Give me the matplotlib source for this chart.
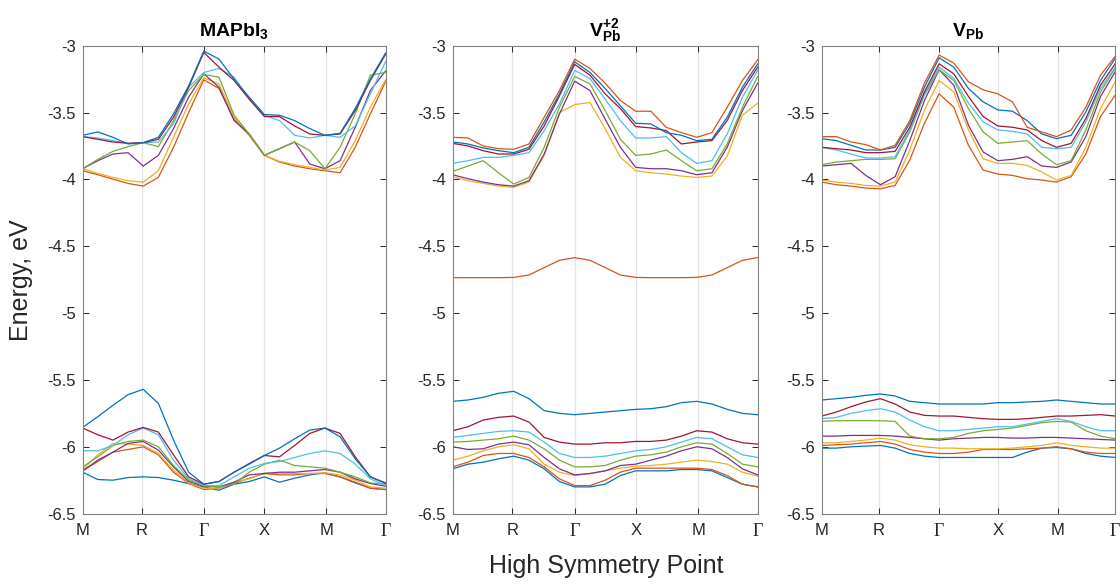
import matplotlib as mpl
mpl.use('Agg')
import matplotlib.pyplot as plt

plt.rcParams['font.family'] = ['Liberation Sans', 'DejaVu Sans']
plt.rcParams['axes.unicode_minus'] = False
plt.rcParams['mathtext.fontset'] = 'custom'
plt.rcParams['mathtext.rm'] = 'Liberation Sans'
plt.rcParams['mathtext.bf'] = 'Liberation Sans:bold'

# k path sampled every quarter segment: M - R - G - X - M - G
kpts = [0, 0.25, 0.5, 0.75, 1, 1.25, 1.5, 1.75, 2, 2.25, 2.5,
        2.75, 3, 3.25, 3.5, 3.75, 4, 4.25, 4.5, 4.75, 5]
hs_pos = [0, 0.975, 2, 3, 4.025, 5]
hs_labels = ['M', 'R', 'Γ', 'X', 'M', 'Γ']

# bands listed from lowest to highest energy (eV)
mapbi3_bands = [
    [-6.19, -6.245, -6.25, -6.23, -6.225, -6.23, -6.25, -6.275, -6.30, -6.325, -6.28, -6.26, -6.225, -6.265, -6.235, -6.21, -6.195, -6.225, -6.27, -6.31, -6.32],
    [-6.18, -6.11, -6.04, -6.02, -6.0, -6.06, -6.19, -6.275, -6.32, -6.31, -6.275, -6.235, -6.2, -6.21, -6.21, -6.2, -6.2, -6.225, -6.265, -6.31, -6.32],
    [-6.17, -6.06, -5.975, -5.98, -5.99, -6.05, -6.175, -6.27, -6.31, -6.31, -6.265, -6.24, -6.195, -6.2, -6.2, -6.2, -6.195, -6.21, -6.25, -6.3, -6.31],
    [-6.18, -6.1, -6.04, -5.975, -5.96, -6.025, -6.15, -6.26, -6.295, -6.3, -6.265, -6.21, -6.2, -6.19, -6.19, -6.18, -6.17, -6.19, -6.24, -6.275, -6.295],
    [-6.15, -6.075, -5.99, -5.96, -5.95, -6.0, -6.14, -6.25, -6.29, -6.3, -6.28, -6.19, -6.13, -6.1, -6.14, -6.15, -6.16, -6.19, -6.225, -6.27, -6.28],
    [-6.03, -6.03, -5.99, -5.91, -5.86, -5.91, -6.1, -6.24, -6.29, -6.29, -6.225, -6.16, -6.125, -6.11, -6.08, -6.05, -6.03, -6.05, -6.13, -6.24, -6.29],
    [-5.86, -5.91, -5.95, -5.89, -5.855, -5.89, -6.06, -6.225, -6.28, -6.26, -6.19, -6.125, -6.065, -6.075, -5.99, -5.9, -5.86, -5.9, -6.075, -6.225, -6.27],
    [-5.855, -5.775, -5.69, -5.61, -5.57, -5.675, -5.95, -6.19, -6.28, -6.26, -6.19, -6.13, -6.065, -6.01, -5.94, -5.875, -5.86, -5.925, -6.09, -6.225, -6.275],
    [-3.935, -3.965, -3.998, -4.03, -4.05, -3.985, -3.76, -3.5, -3.255, -3.32, -3.55, -3.67, -3.82, -3.87, -3.9, -3.92, -3.935, -3.95, -3.76, -3.51, -3.27],
    [-3.92, -3.955, -3.985, -4.01, -4.02, -3.935, -3.685, -3.435, -3.24, -3.285, -3.535, -3.67, -3.82, -3.865, -3.89, -3.91, -3.93, -3.91, -3.71, -3.46, -3.255],
    [-3.92, -3.86, -3.81, -3.80, -3.90, -3.82, -3.62, -3.385, -3.21, -3.31, -3.56, -3.66, -3.82, -3.77, -3.72, -3.885, -3.92, -3.86, -3.61, -3.335, -3.19],
    [-3.92, -3.85, -3.79, -3.755, -3.725, -3.755, -3.56, -3.335, -3.215, -3.235, -3.52, -3.66, -3.82, -3.77, -3.72, -3.785, -3.92, -3.76, -3.51, -3.22, -3.2],
    [-3.68, -3.69, -3.71, -3.73, -3.725, -3.72, -3.585, -3.31, -3.2, -3.17, -3.235, -3.4, -3.52, -3.56, -3.67, -3.69, -3.67, -3.685, -3.6, -3.36, -3.12],
    [-3.68, -3.70, -3.72, -3.73, -3.725, -3.70, -3.535, -3.31, -3.05, -3.16, -3.26, -3.4, -3.53, -3.53, -3.6, -3.66, -3.67, -3.66, -3.485, -3.26, -3.065],
    [-3.67, -3.645, -3.685, -3.735, -3.725, -3.685, -3.51, -3.30, -3.04, -3.1, -3.25, -3.385, -3.515, -3.52, -3.56, -3.62, -3.67, -3.655, -3.47, -3.25, -3.055],
]

vpb2_bands = [
    [-6.165, -6.13, -6.115, -6.09, -6.07, -6.1, -6.165, -6.26, -6.3, -6.3, -6.28, -6.215, -6.18, -6.18, -6.18, -6.17, -6.17, -6.18, -6.23, -6.28, -6.3],
    [-6.15, -6.115, -6.065, -6.05, -6.05, -6.08, -6.15, -6.24, -6.29, -6.29, -6.25, -6.19, -6.16, -6.16, -6.16, -6.16, -6.16, -6.17, -6.215, -6.28, -6.3],
    [-6.1, -6.07, -6.03, -6.0, -5.985, -6.015, -6.13, -6.19, -6.215, -6.2, -6.18, -6.16, -6.145, -6.14, -6.13, -6.115, -6.1, -6.11, -6.13, -6.19, -6.22],
    [-6.0, -6.02, -6.015, -5.98, -5.965, -5.985, -6.08, -6.165, -6.21, -6.2, -6.18, -6.14, -6.13, -6.1, -6.07, -6.03, -6.0, -6.015, -6.08, -6.165, -6.21],
    [-5.965, -5.96, -5.95, -5.94, -5.92, -5.95, -6.015, -6.1, -6.15, -6.15, -6.14, -6.1, -6.07, -6.06, -6.04, -6.0, -5.97, -5.98, -6.05, -6.13, -6.15],
    [-5.93, -5.915, -5.9, -5.885, -5.88, -5.89, -5.965, -6.05, -6.08, -6.08, -6.07, -6.05, -6.03, -6.02, -6.0, -5.965, -5.93, -5.94, -6.0, -6.06, -6.08],
    [-5.88, -5.85, -5.8, -5.78, -5.77, -5.815, -5.93, -5.965, -5.98, -5.98, -5.97, -5.97, -5.96, -5.96, -5.95, -5.92, -5.88, -5.89, -5.94, -5.97, -5.98],
    [-5.66, -5.65, -5.63, -5.6, -5.585, -5.64, -5.73, -5.75, -5.76, -5.75, -5.74, -5.73, -5.72, -5.715, -5.7, -5.67, -5.66, -5.68, -5.72, -5.75, -5.76],
    [-4.735, -4.735, -4.735, -4.735, -4.733, -4.715, -4.66, -4.605, -4.585, -4.605, -4.66, -4.715, -4.733, -4.735, -4.735, -4.735, -4.733, -4.715, -4.66, -4.605, -4.585],
    [-3.98, -4.01, -4.03, -4.05, -4.06, -4.02, -3.82, -3.5, -3.44, -3.425, -3.62, -3.835, -3.935, -3.95, -3.96, -3.975, -3.985, -3.975, -3.825, -3.52, -3.43],
    [-3.965, -3.995, -4.02, -4.04, -4.05, -4.01, -3.81, -3.51, -3.265, -3.335, -3.55, -3.76, -3.91, -3.92, -3.92, -3.935, -3.965, -3.95, -3.76, -3.485, -3.28],
    [-3.94, -3.9, -3.86, -3.95, -4.035, -3.985, -3.76, -3.46, -3.23, -3.285, -3.485, -3.7, -3.82, -3.81, -3.78, -3.86, -3.935, -3.92, -3.735, -3.46, -3.23],
    [-3.88, -3.86, -3.835, -3.835, -3.82, -3.8, -3.635, -3.435, -3.185, -3.245, -3.4, -3.56, -3.69, -3.69, -3.68, -3.8, -3.88, -3.86, -3.66, -3.385, -3.185],
    [-3.73, -3.75, -3.785, -3.81, -3.81, -3.775, -3.6, -3.375, -3.14, -3.22, -3.36, -3.47, -3.605, -3.615, -3.635, -3.735, -3.72, -3.71, -3.56, -3.335, -3.16],
    [-3.72, -3.735, -3.765, -3.785, -3.8, -3.76, -3.57, -3.36, -3.12, -3.2, -3.32, -3.45, -3.58, -3.585, -3.65, -3.67, -3.71, -3.7, -3.535, -3.31, -3.135],
    [-3.685, -3.69, -3.75, -3.77, -3.775, -3.735, -3.535, -3.335, -3.10, -3.17, -3.28, -3.41, -3.49, -3.49, -3.61, -3.65, -3.685, -3.65, -3.46, -3.26, -3.105],
]

vpb_bands = [
    [-6.01, -6.01, -6.0, -5.995, -5.99, -6.01, -6.05, -6.07, -6.08, -6.08, -6.08, -6.08, -6.08, -6.08, -6.04, -6.01, -6.005, -6.015, -6.05, -6.07, -6.08],
    [-5.99, -5.985, -5.98, -5.97, -5.96, -5.98, -6.02, -6.04, -6.05, -6.05, -6.04, -6.02, -6.02, -6.02, -6.015, -6.01, -6.0, -6.015, -6.04, -6.05, -6.05],
    [-5.97, -5.97, -5.96, -5.95, -5.935, -5.95, -5.985, -6.0, -6.01, -6.01, -6.015, -6.015, -6.015, -6.01, -6.0, -5.99, -5.97, -5.99, -6.0, -6.01, -6.01],
    [-5.92, -5.92, -5.915, -5.915, -5.915, -5.92, -5.93, -5.94, -5.95, -5.94, -5.935, -5.93, -5.93, -5.935, -5.935, -5.93, -5.93, -5.935, -5.94, -5.945, -5.95],
    [-5.81, -5.805, -5.805, -5.805, -5.805, -5.81, -5.92, -5.94, -5.94, -5.93, -5.9, -5.88, -5.87, -5.86, -5.84, -5.82, -5.81, -5.815, -5.88, -5.92, -5.94],
    [-5.79, -5.78, -5.75, -5.73, -5.715, -5.74, -5.8, -5.85, -5.88, -5.88, -5.87, -5.86, -5.85, -5.85, -5.83, -5.81, -5.79, -5.81, -5.85, -5.88, -5.88],
    [-5.77, -5.74, -5.7, -5.665, -5.64, -5.68, -5.74, -5.765, -5.77, -5.77, -5.78, -5.79, -5.795, -5.795, -5.79, -5.78, -5.77, -5.77, -5.765, -5.76, -5.77],
    [-5.65, -5.64, -5.63, -5.615, -5.605, -5.62, -5.66, -5.67, -5.68, -5.68, -5.68, -5.68, -5.67, -5.67, -5.665, -5.66, -5.65, -5.66, -5.67, -5.68, -5.68],
    [-4.02, -4.04, -4.05, -4.065, -4.07, -4.045, -3.855, -3.58, -3.36, -3.46, -3.745, -3.93, -3.96, -3.97, -3.995, -4.005, -4.02, -3.98, -3.81, -3.53, -3.37],
    [-4.005, -4.02, -4.03, -4.045, -4.05, -4.02, -3.78, -3.48, -3.26, -3.345, -3.63, -3.845, -3.88, -3.88, -3.895, -3.945, -4.005, -3.97, -3.76, -3.47, -3.27],
    [-3.9, -3.89, -3.88, -3.97, -4.04, -3.98, -3.71, -3.41, -3.18, -3.295, -3.595, -3.795, -3.86, -3.85, -3.83, -3.9, -3.91, -3.87, -3.68, -3.38, -3.195],
    [-3.89, -3.87, -3.86, -3.85, -3.85, -3.845, -3.645, -3.37, -3.18, -3.26, -3.47, -3.645, -3.73, -3.72, -3.71, -3.81, -3.89, -3.86, -3.63, -3.345, -3.17],
    [-3.76, -3.78, -3.81, -3.84, -3.84, -3.83, -3.63, -3.36, -3.16, -3.245, -3.43, -3.57, -3.63, -3.64, -3.66, -3.76, -3.77, -3.76, -3.57, -3.32, -3.16],
    [-3.76, -3.77, -3.78, -3.8, -3.8, -3.79, -3.61, -3.345, -3.135, -3.21, -3.38, -3.53, -3.6, -3.61, -3.63, -3.71, -3.76, -3.73, -3.545, -3.295, -3.135],
    [-3.695, -3.71, -3.745, -3.78, -3.78, -3.76, -3.58, -3.31, -3.09, -3.16, -3.32, -3.42, -3.48, -3.49, -3.56, -3.66, -3.695, -3.67, -3.495, -3.26, -3.095],
    [-3.68, -3.68, -3.72, -3.74, -3.78, -3.745, -3.56, -3.28, -3.07, -3.13, -3.27, -3.33, -3.36, -3.42, -3.61, -3.645, -3.68, -3.63, -3.46, -3.22, -3.08],
]

titles = [r'$\mathbf{MAPbI_3}$', r'$\mathbf{V^{+2}_{Pb}}$', r'$\mathbf{V_{Pb}}$']
yticks = [-6.5, -6, -5.5, -5, -4.5, -4, -3.5, -3]

colors = ['#0072BD', '#D95319', '#EDB120', '#7E2F8E', '#77AC30', '#4DBEEE', '#A2142F']
axcol = '#262626'

fig = plt.figure(figsize=(11.2, 5.84), dpi=100)
rects = [
    [0.0738, 0.1205, 0.2704, 0.8012],
    [0.4042, 0.1205, 0.2723, 0.8012],
    [0.7337, 0.1205, 0.2620, 0.8012],
]

for rect, bands, title in zip(rects, [mapbi3_bands, vpb2_bands, vpb_bands], titles):
    ax = fig.add_axes(rect)
    for x in hs_pos[1:-1]:
        ax.axvline(x, color='#e3e3e3', lw=0.9, zorder=0)
    for i, band in enumerate(bands):
        ax.plot(kpts, band, color=colors[i % len(colors)], lw=0.9,
                solid_joinstyle='round')
    ax.set_xlim(0, 5)
    ax.set_ylim(-6.5, -3)
    ax.set_xticks(hs_pos)
    ax.set_xticklabels(hs_labels)
    ax.set_yticks(yticks)
    ax.set_yticklabels(['%g' % v for v in yticks])
    ax.tick_params(direction='in', length=4, width=0.7, colors=axcol,
                   labelsize=12, top=True, right=True)
    ax.tick_params(axis='x', pad=7)
    ax.tick_params(axis='y', pad=5)
    for lab in ax.get_xticklabels():
        if lab.get_text() == 'Γ':
            lab.set_family('Liberation Serif')
            lab.set_fontsize(13)
    for sp in ax.spines.values():
        sp.set_color('#808080')
        sp.set_linewidth(0.8)
    ax.set_title(title, fontsize=14, color='black', pad=7)

fig.text(0.0188, 0.5205, 'Energy, eV', rotation=90, ha='center', va='center',
         fontsize=18, color=axcol)
fig.text(0.541, 0.031, 'High Symmetry Point', ha='center', va='center',
         fontsize=18, color=axcol)

fig.savefig('out.png', dpi=100)
